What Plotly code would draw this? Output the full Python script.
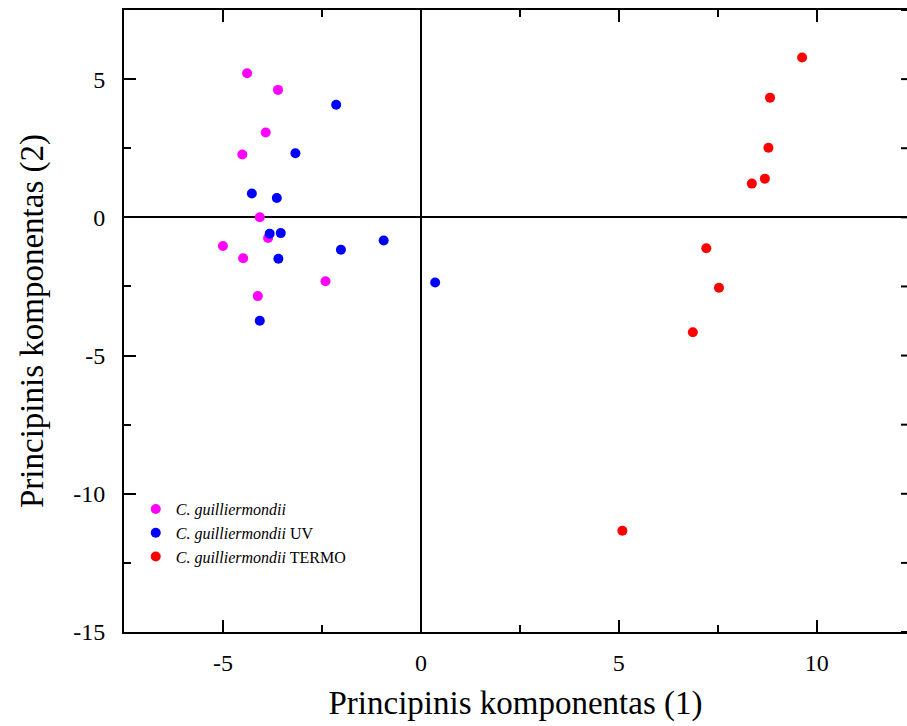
import plotly.graph_objects as go

# Principal component scores for each strain group
pc1_wild = [-4.39, -3.61, -3.92, -4.51, -4.07, -3.86, -5.00, -4.49, -2.41, -4.12]
pc2_wild = [5.21, 4.61, 3.07, 2.27, 0.00, -0.75, -1.04, -1.48, -2.31, -2.85]

pc1_uv = [-2.14, -3.17, -4.27, -3.64, -3.82, -3.54, -0.94, -2.02, -3.60, 0.36, -4.07]
pc2_uv = [4.07, 2.32, 0.86, 0.70, -0.59, -0.57, -0.84, -1.17, -1.50, -2.36, -3.74]

pc1_termo = [9.63, 8.82, 8.78, 8.69, 8.36, 7.21, 7.53, 6.87, 5.09]
pc2_termo = [5.78, 4.33, 2.52, 1.40, 1.22, -1.12, -2.55, -4.16, -11.34]

series_names = [
    "<i>C. guilliermondii</i>",
    "<i>C. guilliermondii</i> UV",
    "<i>C. guilliermondii</i> TERMO",
]
series_colors = ["#FF00FF", "#0000FF", "#FF0000"]

x_range = [-7.5, 12.28]
y_range = [-15, 7.5]
x_ticks = [-5, 0, 5, 10]
y_ticks = [5, 0, -5, -10, -15]
y_tick_marks = [7.5, 5, 2.5, 0, -2.5, -5, -7.5, -10, -12.5, -15]

FONT = "Liberation Serif"


def tick_label(v):
    # plain hyphen for negatives
    return str(v) if v >= 0 else "-" + str(abs(v))


fig = go.Figure()
for xs, ys, name, color in zip(
    [pc1_wild, pc1_uv, pc1_termo],
    [pc2_wild, pc2_uv, pc2_termo],
    series_names,
    series_colors,
):
    fig.add_trace(
        go.Scatter(
            x=xs,
            y=ys,
            mode="markers",
            name=name,
            marker=dict(color=color, size=10, symbol="circle", line=dict(width=0)),
        )
    )

axis_common = dict(
    showgrid=False,
    showline=True,
    linecolor="black",
    linewidth=2,
    ticks="inside",
    ticklen=12,
    tickwidth=2,
    tickcolor="black",
    zeroline=True,
    zerolinecolor="black",
    zerolinewidth=2,
    tickfont=dict(family=FONT, size=24, color="black"),
    minor=dict(ticks="inside", ticklen=7, tickwidth=2, tickcolor="black", dtick=2.5),
)

fig.update_xaxes(
    **axis_common,
    range=x_range,
    tickmode="array",
    tickvals=x_ticks,
    ticktext=[tick_label(v) for v in x_ticks],
    mirror="ticks",
    ticklabelstandoff=8,
    title=dict(
        text="Principinis komponentas (1)",
        font=dict(family=FONT, size=33, color="black"),
        standoff=16,
    ),
)
fig.update_yaxes(
    **axis_common,
    range=y_range,
    tickmode="array",
    tickvals=y_ticks,
    ticktext=[tick_label(v) for v in y_ticks],
    mirror=False,
    ticklabelstandoff=12,
    title=dict(
        text="Principinis komponentas (2)",
        font=dict(family=FONT, size=33, color="black"),
        standoff=20,
    ),
)

# Inward tick marks along the right edge of the frame
for yv in y_tick_marks:
    fig.add_shape(
        type="line",
        xref="paper",
        yref="y",
        x0=1.0,
        x1=1.0 - 6 / 783,
        y0=yv,
        y1=yv,
        line=dict(color="black", width=2),
    )

fig.update_layout(
    width=907,
    height=726,
    margin=dict(l=124, r=0, t=10, b=94),
    paper_bgcolor="white",
    plot_bgcolor="white",
    font=dict(family=FONT, color="black"),
    showlegend=True,
    legend=dict(
        x=0.015,
        y=0.225,
        xanchor="left",
        yanchor="top",
        bgcolor="rgba(0,0,0,0)",
        font=dict(family=FONT, size=16, color="black"),
        tracegroupgap=0,
        itemwidth=30,
    ),
)

fig.write_html("out.html")
